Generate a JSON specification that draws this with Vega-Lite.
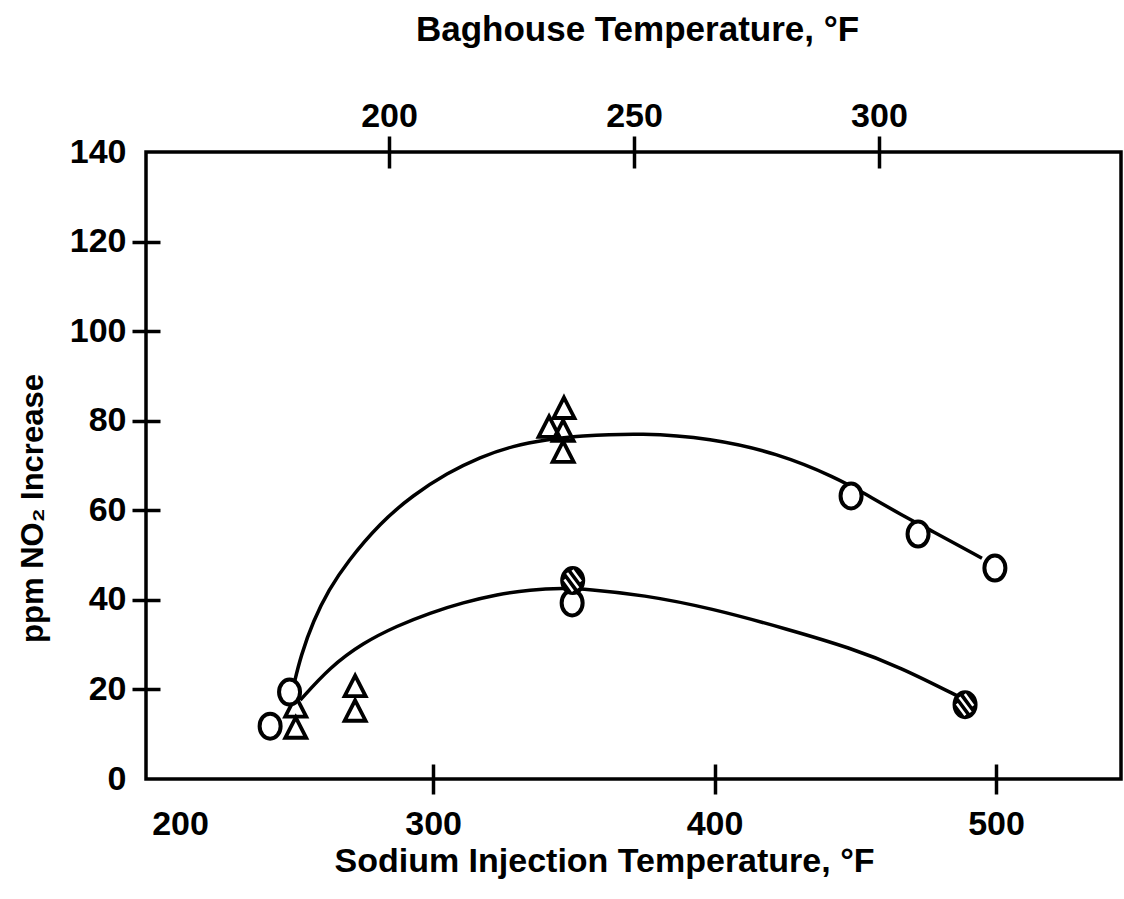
{
  "$schema": "https://vega.github.io/schema/vega-lite/v6.json",
  "width": 975,
  "height": 627,
  "autosize": {"type": "none"},
  "padding": {"left": 146, "top": 152, "right": 3, "bottom": 120},
  "background": "white",
  "config": {
    "view": {"stroke": "black", "strokeWidth": 3.5},
    "font": "Liberation Sans",
    "axis": {
      "labelFont": "Liberation Sans",
      "titleFont": "Liberation Sans",
      "labelFontWeight": "bold",
      "titleFontWeight": "bold",
      "labelColor": "black",
      "titleColor": "black",
      "tickColor": "black",
      "tickWidth": 3.5,
      "grid": false,
      "domain": false,
      "labelOverlap": false,
      "labelBound": false,
      "labelFontSize": 34
    }
  },
  "datasets": {
    "points": [
      {"marker": "open", "sodium_f": 242.1, "ppm_no2": 11.8},
      {"marker": "open", "sodium_f": 249.0, "ppm_no2": 19.4},
      {"marker": "open", "sodium_f": 349.4, "ppm_no2": 39.3},
      {"marker": "open", "sodium_f": 448.5, "ppm_no2": 63.2},
      {"marker": "open", "sodium_f": 472.3, "ppm_no2": 54.7},
      {"marker": "open", "sodium_f": 499.6, "ppm_no2": 47.1},
      {"marker": "hatched", "sodium_f": 349.6, "ppm_no2": 44.3},
      {"marker": "hatched", "sodium_f": 489.0, "ppm_no2": 16.6},
      {"marker": "triangle", "sodium_f": 251.2, "ppm_no2": 15.9},
      {"marker": "triangle", "sodium_f": 251.2, "ppm_no2": 11.2},
      {"marker": "triangle", "sodium_f": 272.3, "ppm_no2": 20.5},
      {"marker": "triangle", "sodium_f": 272.3, "ppm_no2": 15.0},
      {"marker": "triangle", "sodium_f": 341.2, "ppm_no2": 78.4},
      {"marker": "triangle", "sodium_f": 346.5, "ppm_no2": 82.6},
      {"marker": "triangle", "sodium_f": 346.2, "ppm_no2": 77.5},
      {"marker": "triangle", "sodium_f": 346.2, "ppm_no2": 72.8}
    ],
    "curves": [
      {"curve": "upper", "sodium_f": 250.5, "ppm_no2": 21.0},
      {"curve": "upper", "sodium_f": 253.0, "ppm_no2": 27.5},
      {"curve": "upper", "sodium_f": 257.4, "ppm_no2": 35.3},
      {"curve": "upper", "sodium_f": 263.0, "ppm_no2": 42.3},
      {"curve": "upper", "sodium_f": 269.4, "ppm_no2": 48.4},
      {"curve": "upper", "sodium_f": 281.2, "ppm_no2": 57.2},
      {"curve": "upper", "sodium_f": 292.9, "ppm_no2": 63.4},
      {"curve": "upper", "sodium_f": 305.0, "ppm_no2": 68.3},
      {"curve": "upper", "sodium_f": 316.7, "ppm_no2": 71.9},
      {"curve": "upper", "sodium_f": 328.4, "ppm_no2": 74.4},
      {"curve": "upper", "sodium_f": 340.5, "ppm_no2": 75.8},
      {"curve": "upper", "sodium_f": 351.2, "ppm_no2": 76.6},
      {"curve": "upper", "sodium_f": 374.6, "ppm_no2": 77.3},
      {"curve": "upper", "sodium_f": 398.4, "ppm_no2": 76.1},
      {"curve": "upper", "sodium_f": 422.2, "ppm_no2": 72.8},
      {"curve": "upper", "sodium_f": 443.5, "ppm_no2": 67.2},
      {"curve": "upper", "sodium_f": 452.8, "ppm_no2": 63.9},
      {"curve": "upper", "sodium_f": 466.6, "ppm_no2": 58.9},
      {"curve": "upper", "sodium_f": 476.6, "ppm_no2": 55.6},
      {"curve": "upper", "sodium_f": 495.0, "ppm_no2": 49.3},
      {"curve": "lower", "sodium_f": 252.8, "ppm_no2": 17.6},
      {"curve": "lower", "sodium_f": 263.4, "ppm_no2": 25.0},
      {"curve": "lower", "sodium_f": 275.1, "ppm_no2": 30.4},
      {"curve": "lower", "sodium_f": 287.2, "ppm_no2": 34.2},
      {"curve": "lower", "sodium_f": 298.9, "ppm_no2": 37.1},
      {"curve": "lower", "sodium_f": 310.7, "ppm_no2": 39.4},
      {"curve": "lower", "sodium_f": 322.7, "ppm_no2": 41.2},
      {"curve": "lower", "sodium_f": 334.5, "ppm_no2": 42.3},
      {"curve": "lower", "sodium_f": 346.2, "ppm_no2": 42.6},
      {"curve": "lower", "sodium_f": 354.7, "ppm_no2": 42.4},
      {"curve": "lower", "sodium_f": 374.6, "ppm_no2": 41.1},
      {"curve": "lower", "sodium_f": 398.4, "ppm_no2": 38.2},
      {"curve": "lower", "sodium_f": 426.8, "ppm_no2": 33.3},
      {"curve": "lower", "sodium_f": 448.1, "ppm_no2": 29.3},
      {"curve": "lower", "sodium_f": 465.9, "ppm_no2": 25.0},
      {"curve": "lower", "sodium_f": 488.0, "ppm_no2": 18.0}
    ],
    "baghouse": [
      {"baghouse_f": 200},
      {"baghouse_f": 250},
      {"baghouse_f": 300}
    ]
  },
  "layer": [
    {
      "layer": [
        {
          "data": {"name": "curves"},
          "mark": {"type": "line", "interpolate": "basis", "color": "black", "strokeWidth": 3.5},
          "encoding": {
            "x": {
              "field": "sodium_f", "type": "quantitative",
              "scale": {"domain": [198, 544.4], "nice": false, "zero": false},
              "axis": {
                "orient": "bottom",
                "values": [200, 300, 400, 500],
                "tickSize": 15,
                "tickOpacity": {"condition": {"test": "datum.value == 200", "value": 0}, "value": 1},
                "labelFlush": 10,
                "labelBaseline": "alphabetic",
                "labelPadding": 40,
                "title": "Sodium Injection Temperature, °F",
                "titleFontSize": 34,
                "titleX": 458,
                "titleY": 92,
                "titleBaseline": "alphabetic"
              }
            },
            "y": {
              "field": "ppm_no2", "type": "quantitative",
              "scale": {"domain": [0, 140], "nice": false, "zero": false},
              "axis": {
                "orient": "left",
                "values": [0, 20, 40, 60, 80, 100, 120, 140],
                "tickSize": 14,
                "tickOpacity": {"condition": {"test": "datum.value == 0 || datum.value == 140", "value": 0}, "value": 1},
                "labelPadding": 6,
                "labelBaseline": "middle",
                "title": "ppm NO₂ Increase",
                "titleFontSize": 31,
                "titleAngle": -90,
                "titleX": -104,
                "titleY": 356,
                "titleBaseline": "alphabetic"
              }
            },
            "detail": {"field": "curve"}
          }
        },
        {
          "data": {"name": "points"},
          "transform": [{"filter": "datum.marker == 'triangle'"}],
          "mark": {"type": "point", "shape": "M0,-1.1L1,0.85L-1,0.85Z", "size": 441, "filled": false, "stroke": "black", "strokeWidth": 3.8, "strokeJoin": "miter", "opacity": 1},
          "encoding": {
            "x": {"field": "sodium_f", "type": "quantitative", "scale": {"domain": [198, 544.4], "nice": false, "zero": false}},
            "y": {"field": "ppm_no2", "type": "quantitative", "scale": {"domain": [0, 140], "nice": false, "zero": false}}
          }
        },
        {
          "data": {"name": "points"},
          "transform": [{"filter": "datum.marker == 'open'"}],
          "mark": {"type": "point", "shape": "M-0.84,0A0.84,1 0 1,1 0.84,0A0.84,1 0 1,1 -0.84,0Z", "size": 625, "filled": true, "fill": "white", "stroke": "black", "strokeWidth": 4, "opacity": 1, "fillOpacity": 1, "strokeOpacity": 1},
          "encoding": {
            "x": {"field": "sodium_f", "type": "quantitative", "scale": {"domain": [198, 544.4], "nice": false, "zero": false}},
            "y": {"field": "ppm_no2", "type": "quantitative", "scale": {"domain": [0, 140], "nice": false, "zero": false}}
          }
        },
        {
          "data": {"name": "points"},
          "transform": [{"filter": "datum.marker == 'hatched'"}],
          "mark": {"type": "point", "shape": "M-0.84,0A0.84,1 0 1,1 0.84,0A0.84,1 0 1,1 -0.84,0Z", "size": 625, "filled": true, "fill": "black", "stroke": "black", "strokeWidth": 4, "opacity": 1, "fillOpacity": 1, "strokeOpacity": 1},
          "encoding": {
            "x": {"field": "sodium_f", "type": "quantitative", "scale": {"domain": [198, 544.4], "nice": false, "zero": false}},
            "y": {"field": "ppm_no2", "type": "quantitative", "scale": {"domain": [0, 140], "nice": false, "zero": false}}
          }
        },
        {
          "data": {"name": "points"},
          "transform": [{"filter": "datum.marker == 'hatched'"}],
          "mark": {"type": "point", "shape": "M-0.45,-0.6L0.45,0.6M-0.02,-0.85L0.66,0.08M-0.66,-0.08L0.02,0.85", "size": 625, "filled": false, "stroke": "white", "strokeWidth": 2.5, "strokeCap": "butt", "opacity": 1},
          "encoding": {
            "x": {"field": "sodium_f", "type": "quantitative", "scale": {"domain": [198, 544.4], "nice": false, "zero": false}},
            "y": {"field": "ppm_no2", "type": "quantitative", "scale": {"domain": [0, 140], "nice": false, "zero": false}}
          }
        }
      ]
    },
    {
      "data": {"name": "points"},
      "mark": {"type": "point", "opacity": 0},
      "encoding": {
        "x": {
          "field": "sodium_f", "type": "quantitative",
          "scale": {"domain": [198, 544.4], "nice": false, "zero": false},
          "axis": {"orient": "bottom", "values": [300, 400, 500], "tickSize": -15, "labels": false, "title": null}
        },
        "y": {
          "field": "ppm_no2", "type": "quantitative",
          "scale": {"domain": [0, 140], "nice": false, "zero": false},
          "axis": {"orient": "left", "values": [20, 40, 60, 80, 100, 120], "tickSize": -14, "labels": false, "title": null}
        }
      }
    },
    {
      "data": {"name": "baghouse"},
      "mark": {"type": "point", "opacity": 0},
      "encoding": {
        "x": {
          "field": "baghouse_f", "type": "quantitative",
          "scale": {"domain": [150.4, 349.4], "nice": false, "zero": false},
          "axis": {
            "orient": "top",
            "values": [200, 250, 300],
            "tickSize": 16,
            "labelPadding": 10,
            "labelBaseline": "alphabetic",
            "title": "Baghouse Temperature, °F",
            "titleFontSize": 35,
            "titleX": 491,
            "titleY": -112,
            "titleBaseline": "alphabetic"
          }
        }
      }
    },
    {
      "data": {"name": "baghouse"},
      "mark": {"type": "point", "opacity": 0},
      "encoding": {
        "x": {
          "field": "baghouse_f", "type": "quantitative",
          "scale": {"domain": [150.4, 349.4], "nice": false, "zero": false},
          "axis": {"orient": "top", "values": [200, 250, 300], "tickSize": -16, "labels": false, "title": null}
        }
      }
    }
  ],
  "resolve": {"scale": {"x": "independent", "y": "independent"}}
}
